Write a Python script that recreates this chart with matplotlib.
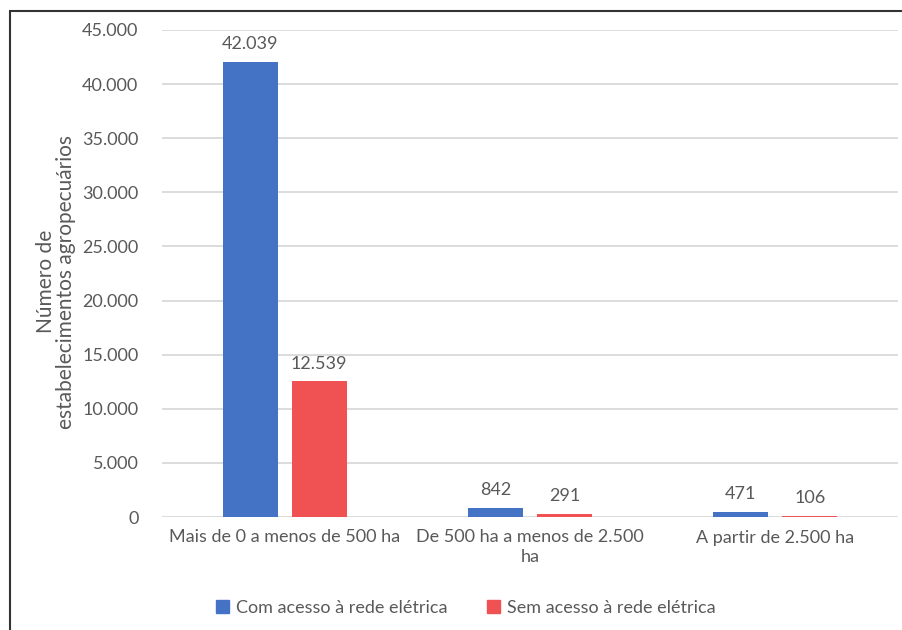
import matplotlib
matplotlib.use("Agg")
import matplotlib.pyplot as plt
import numpy as np
from matplotlib.patches import Rectangle

categories = ["Mais de 0 a menos de 500 ha", "De 500 ha a menos de 2.500\nha", "A partir de 2.500 ha"]
series_names = ["Com acesso à rede elétrica", "Sem acesso à rede elétrica"]
com_acesso = [42039, 842, 471]
sem_acesso = [12539, 291, 106]
y_ticks = [0, 5000, 10000, 15000, 20000, 25000, 30000, 35000, 40000, 45000]

def fmt(v):
    return f"{v:,}".replace(",", ".")

plt.rcParams["font.family"] = ["Lato", "DejaVu Sans"]
text_color = "#595959"
blue = "#4472C4"
red = "#F05152"
fs = 13

W, H = 903, 630
fig = plt.figure(figsize=(W / 100, H / 100), dpi=100)
ax = fig.add_axes([162 / W, 1 - 517 / H, (898 - 162) / W, (517 - 30) / H])

x = np.arange(len(categories))
bw = 0.224
off = 0.141
b1 = ax.bar(x - off, com_acesso, bw, color=blue, label=series_names[0], zorder=3)
b2 = ax.bar(x + off, sem_acesso, bw, color=red, label=series_names[1], zorder=3)

for bars, vals in ((b1, com_acesso), (b2, sem_acesso)):
    for r, v in zip(bars, vals):
        ax.annotate(fmt(v), (r.get_x() + r.get_width() / 2, v), xytext=(0, 7),
                    textcoords="offset points", ha="center", va="bottom",
                    fontsize=fs, color=text_color)

ax.set_xlim(-0.5, len(categories) - 0.5)
ax.set_ylim(0, 45000)
ax.set_yticks(y_ticks)
ax.set_yticklabels([fmt(t) for t in y_ticks])
ax.set_xticks(x)
ax.set_xticklabels(categories, linespacing=1.3)
ax.tick_params(axis="both", length=0, labelsize=fs, labelcolor=text_color)
ax.tick_params(axis="y", pad=17)
ax.tick_params(axis="x", pad=9)
ax.grid(axis="y", color="#D9D9D9", linewidth=1.3, zorder=0)
for s in ax.spines.values():
    s.set_visible(False)

ax.set_ylabel("Número de\nestabelecimentos agropecuários", fontsize=15,
              color=text_color, linespacing=1.0)
ax.yaxis.set_label_coords(-0.117, 0.483)

handles = [Rectangle((0, 0), 1, 1, color=blue), Rectangle((0, 0), 1, 1, color=red)]
fig.legend(handles, series_names, loc="center", bbox_to_anchor=(466 / W, 1 - 608 / H),
           ncol=2, frameon=False, fontsize=fs, labelcolor=text_color,
           handlelength=0.7, handleheight=0.7, handletextpad=0.4, columnspacing=2.2)

# outer frame (left and top edges visible)
fig.add_artist(Rectangle((10 / W, -0.1), 1.2, 1 - 11 / H + 0.1, transform=fig.transFigure,
                         fill=False, edgecolor="#333333", linewidth=1.5))

fig.savefig("out.png", dpi=100)
